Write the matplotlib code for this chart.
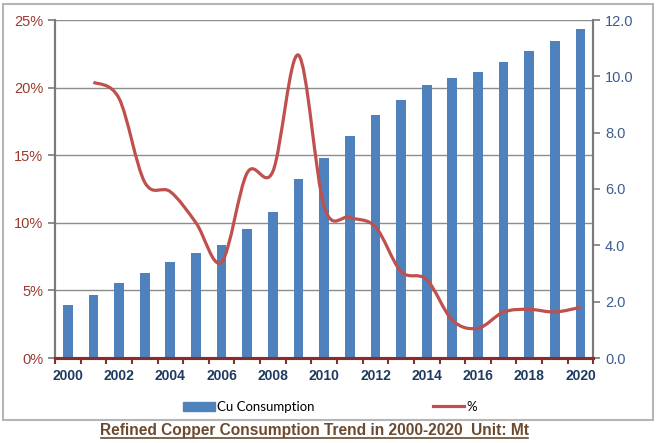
import numpy as np
import matplotlib
matplotlib.use('Agg')
import matplotlib.pyplot as plt
from matplotlib.path import Path
from matplotlib.patches import PathPatch, Rectangle, Patch
from matplotlib.lines import Line2D

plt.rcParams['font.family'] = ['Liberation Sans', 'DejaVu Sans']

years = list(range(2000, 2021))
consumption = [1.88, 2.24, 2.67, 3.03, 3.42, 3.74, 4.01, 4.57, 5.19, 6.35, 7.10,
               7.88, 8.62, 9.16, 9.68, 9.95, 10.15, 10.51, 10.89, 11.25, 11.68]
growth_years = list(range(2001, 2021))
growth_pct = [20.4, 19.2, 13.0, 12.3, 10.0, 7.1, 13.7, 13.8, 22.4, 11.2,
              10.4, 9.7, 6.4, 5.8, 2.8, 2.2, 3.4, 3.6, 3.4, 3.75]

bar_color = '#4F81BD'
line_color = '#C0504D'

fig = plt.figure(figsize=(6.57, 4.43), dpi=100)
ax = fig.add_axes([55/657, 1-358/443, (593.3-55)/657, (358-20)/443])
ax2 = ax.twinx()

# bars on the right (Mt) axis, line on the left (%) axis
x = np.arange(len(years))
ax2.bar(x, consumption, width=0.38, color=bar_color, zorder=2)
ax2.set_ylim(0, 12)
ax2.set_yticks(np.arange(0, 12.1, 2))
ax2.set_yticklabels(['%.1f' % v for v in np.arange(0, 12.1, 2)])

ax.set_ylim(0, 25)
ax.set_yticks(range(0, 26, 5))
ax.set_yticklabels(['%d%%' % v for v in range(0, 26, 5)])
ax.set_xlim(-0.5, len(years) - 0.5)
ax.yaxis.grid(True, color='#8c8c8c', lw=1)
ax.set_axisbelow(True)

# smoothed line like excel (bezier through the points)
gx = np.array([years.index(y) for y in growth_years], dtype=float)
gy = np.array(growth_pct)
pts = np.column_stack([gx, gy])
ext = np.vstack([pts[0], pts, pts[-1]])
verts = [tuple(pts[0])]
codes = [Path.MOVETO]
for i in range(1, len(ext) - 2):
    p0, p1, p2, p3 = ext[i-1], ext[i], ext[i+1], ext[i+2]
    c1 = p1 + (p2 - p0) / 6
    c2 = p2 - (p3 - p1) / 6
    verts += [tuple(c1), tuple(c2), tuple(p2)]
    codes += [Path.CURVE4] * 3
ax2.add_patch(PathPatch(Path(verts, codes), fill=False, ec=line_color, lw=2.3,
                        zorder=3, transform=ax.transData))

# axes styling
for a in (ax, ax2):
    a.spines['top'].set_visible(False)
    a.spines['left'].set_color('#7a7a7a')
    a.spines['right'].set_color('#7a7a7a')
    a.spines['left'].set_linewidth(1.5)
    a.spines['right'].set_linewidth(1.5)
    a.spines['bottom'].set_color('#8B2C2C')
    a.spines['bottom'].set_linewidth(2.2)

ax.tick_params(axis='y', colors='#7a7a7a', labelcolor='#9A3B30', labelsize=10.5,
               length=5, width=1.2)
ax2.tick_params(axis='y', colors='#7a7a7a', labelcolor='#3B5C8F', labelsize=10.5,
                length=5, width=1.2)
ax.set_xticks(np.arange(-0.5, len(years), 1), minor=True)
ax.set_xticks(x[::2])
ax.set_xticklabels([str(y) for y in years[::2]], fontweight='bold', color='#1F3A60',
                   fontsize=10)
ax.tick_params(axis='x', which='major', length=0, pad=8)
ax.tick_params(axis='x', which='minor', length=4, width=1.5, color='#8B2C2C')

# legend
handles = [Patch(color=bar_color), Line2D([], [], color=line_color, lw=2.3)]
fig.legend(handles, ['Cu Consumption', '%'], loc='center',
           bbox_to_anchor=(330/657, 1-407/443), ncol=2, frameon=False,
           columnspacing=9.0, handlelength=2.4, handletextpad=0.15,
           prop={'family': ['Lato', 'DejaVu Sans'], 'size': 9.5})

# title with underline
fig.text(314.5/657, 1-431/443, 'Refined Copper Consumption Trend in 2000-2020  Unit: Mt',
         ha='center', va='center', fontweight='bold', fontsize=11.2, color='#6B4A2F')
fig.add_artist(Line2D([101/657, 528/657], [1-438/443, 1-438/443], color='#6B4A2F',
                      lw=1.2, transform=fig.transFigure))

# outer frame
fig.add_artist(Rectangle((3/657, 1-420/443), 650/657, 416/443, fill=False,
                         ec='#b5b5b5', lw=1.5, transform=fig.transFigure))

fig.savefig('out.png', dpi=100)
